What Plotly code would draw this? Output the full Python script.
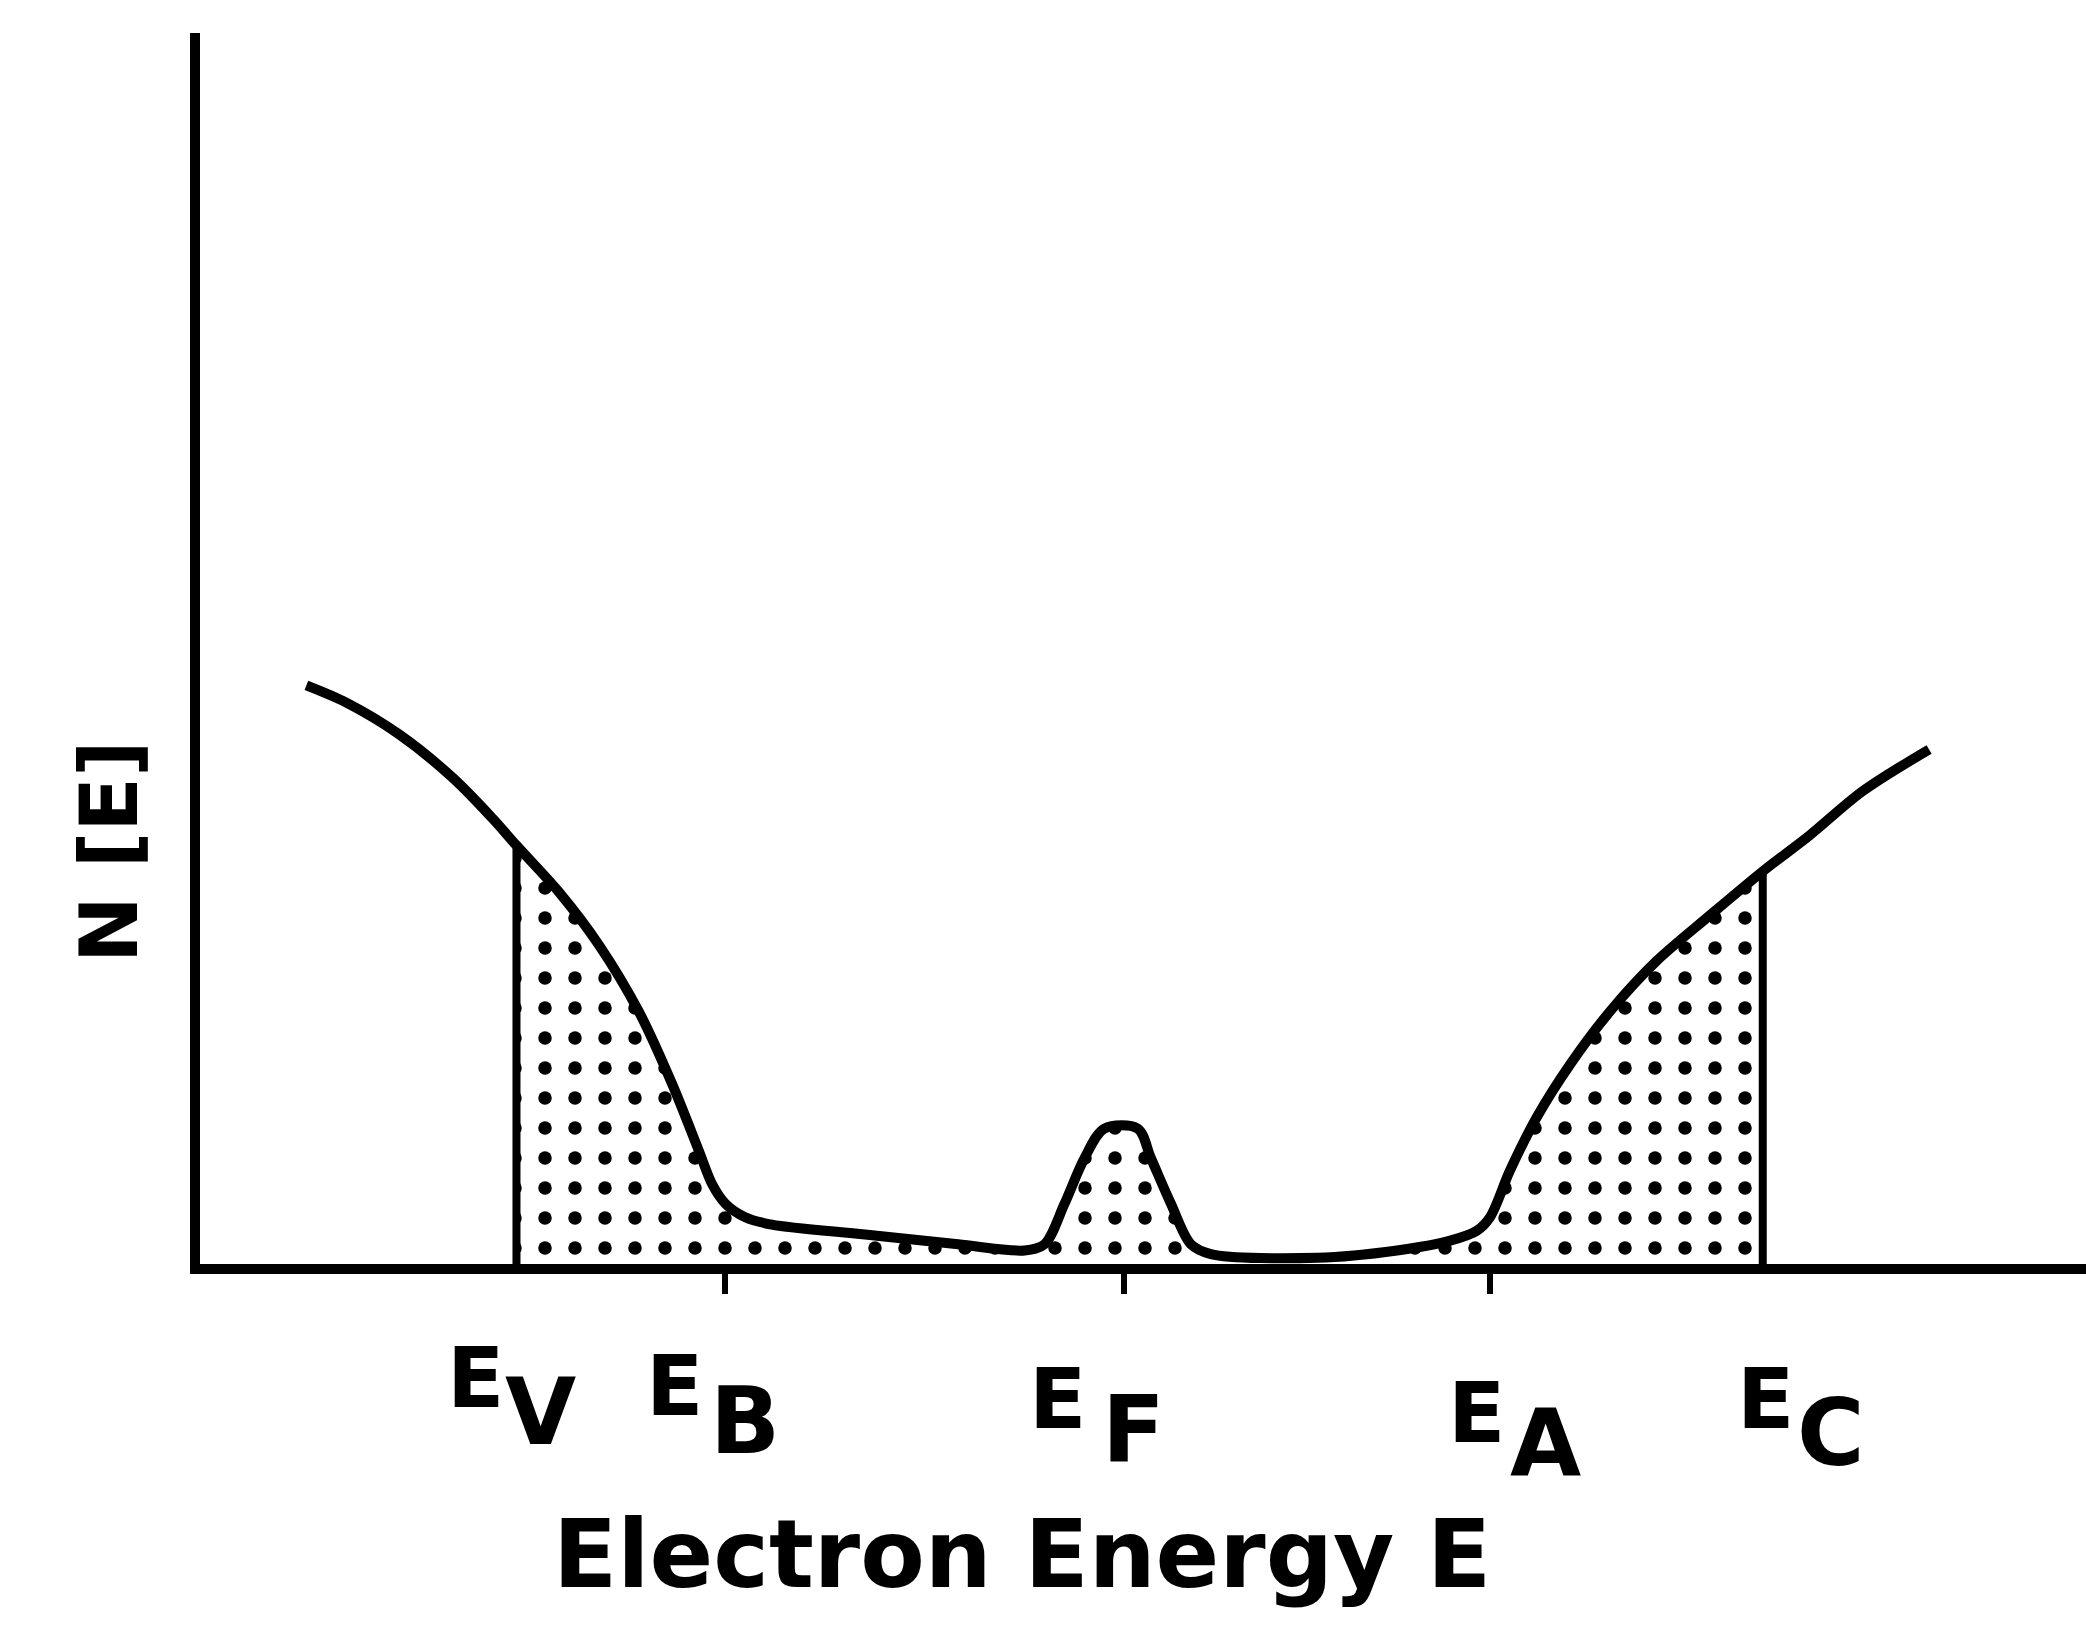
import numpy as np
import plotly.graph_objects as go

# Density of states N(E) across the gap (arbitrary units)
energy = [0.564, 0.776, 1.058, 1.340, 1.551, 1.678, 1.904, 2.116, 2.327, 2.504,
          2.645, 2.715, 2.786, 2.891, 3.032, 3.526, 4.020, 4.372, 4.478, 4.584,
          4.690, 4.795, 4.972, 5.042, 5.148, 5.254, 5.360, 5.924, 6.347, 6.629,
          6.770, 6.840, 6.946, 7.087, 7.264, 7.475, 7.722, 8.004, 8.286, 8.533,
          8.815, 9.168]
density = [4.70, 4.56, 4.30, 3.95, 3.62, 3.40, 3.02, 2.59, 2.05, 1.46,
           0.92, 0.65, 0.49, 0.38, 0.32, 0.24, 0.16, 0.11, 0.16, 0.49,
           0.86, 1.10, 1.10, 0.86, 0.49, 0.16, 0.08, 0.05, 0.11, 0.19,
           0.27, 0.38, 0.76, 1.19, 1.62, 2.05, 2.46, 2.83, 3.19, 3.48,
           3.84, 4.18]

# Characteristic energies
E_V, E_B, E_F, E_A, E_C = 1.678, 2.786, 4.901, 6.840, 8.286
tick_energies = [E_B, E_F, E_A]
edge_energies = [E_V, E_C]
label_subs = ["V", "B", "F", "A", "C"]

FONT = "DejaVu Sans, Liberation Sans, sans-serif"
INK = "black"
X_MAX, Y_MAX = 10.0, 10.0

e = np.array(energy)
n = np.array(density)
inside = (e >= E_V - 1e-9) & (e <= E_C + 1e-9)

fig = go.Figure()

# stippled occupied region between the band edges
fig.add_trace(go.Scatter(
    x=e[inside], y=n[inside], mode="lines", fill="tozeroy",
    line=dict(width=0, color=INK, shape="spline", smoothing=0.9),
    fillcolor="white",
    fillpattern=dict(shape=".", fgcolor=INK, fgopacity=1, bgcolor="white",
                     size=30, solidity=0.16),
    hoverinfo="skip", showlegend=False,
))

# N(E) curve
fig.add_trace(go.Scatter(
    x=energy, y=density, mode="lines",
    line=dict(width=10, color=INK, shape="spline", smoothing=0.9),
    showlegend=False,
))

# vertical band-edge lines from the axis up to the curve
for ed in edge_energies:
    top = float(np.interp(ed, e, n))
    fig.add_shape(type="line", x0=ed, x1=ed, y0=0, y1=top,
                  line=dict(color=INK, width=8), layer="above")

# label placement in axis units: (E x, E y, subscript x, subscript y)
label_pos = [
    (1.460, -0.93, 1.808, -1.21),
    (2.518, -0.99, 2.891, -1.28),
    (4.549, -1.10, 4.951, -1.35),
    (6.770, -1.21, 7.133, -1.46),
    (8.300, -1.10, 8.649, -1.38),
]


def paper(xv, yv):
    return xv / X_MAX, yv / Y_MAX


def label(xv, yv, text, size, angle=0):
    px, py = paper(xv, yv)
    fig.add_annotation(x=px, y=py, xref="paper", yref="paper", text=text,
                       showarrow=False, xanchor="center", yanchor="middle",
                       textangle=angle,
                       font=dict(family=FONT, size=size, color=INK, weight="bold"))


for sub, (ex, ey, sx, sy) in zip(label_subs, label_pos):
    label(ex, ey, "E", 84)
    label(sx, sy, sub, 92)

label(4.358, -2.36, "Electron Energy E", 94)
label(-0.48, 3.35, "N [E]", 80, angle=-90)

fig.update_layout(
    width=2086, height=1630,
    margin=dict(l=200, r=0, t=33, b=366),
    paper_bgcolor="white", plot_bgcolor="white",
    showlegend=False,
)
fig.update_xaxes(range=[0, X_MAX], showline=True, linewidth=10, linecolor=INK,
                 showgrid=False, zeroline=False, ticks="outside",
                 tickvals=tick_energies, ticklen=20, tickwidth=6, tickcolor=INK,
                 showticklabels=False)
fig.update_yaxes(range=[0, Y_MAX], showline=True, linewidth=10, linecolor=INK,
                 showgrid=False, zeroline=False, ticks="", showticklabels=False)

fig.write_html("out.html")
